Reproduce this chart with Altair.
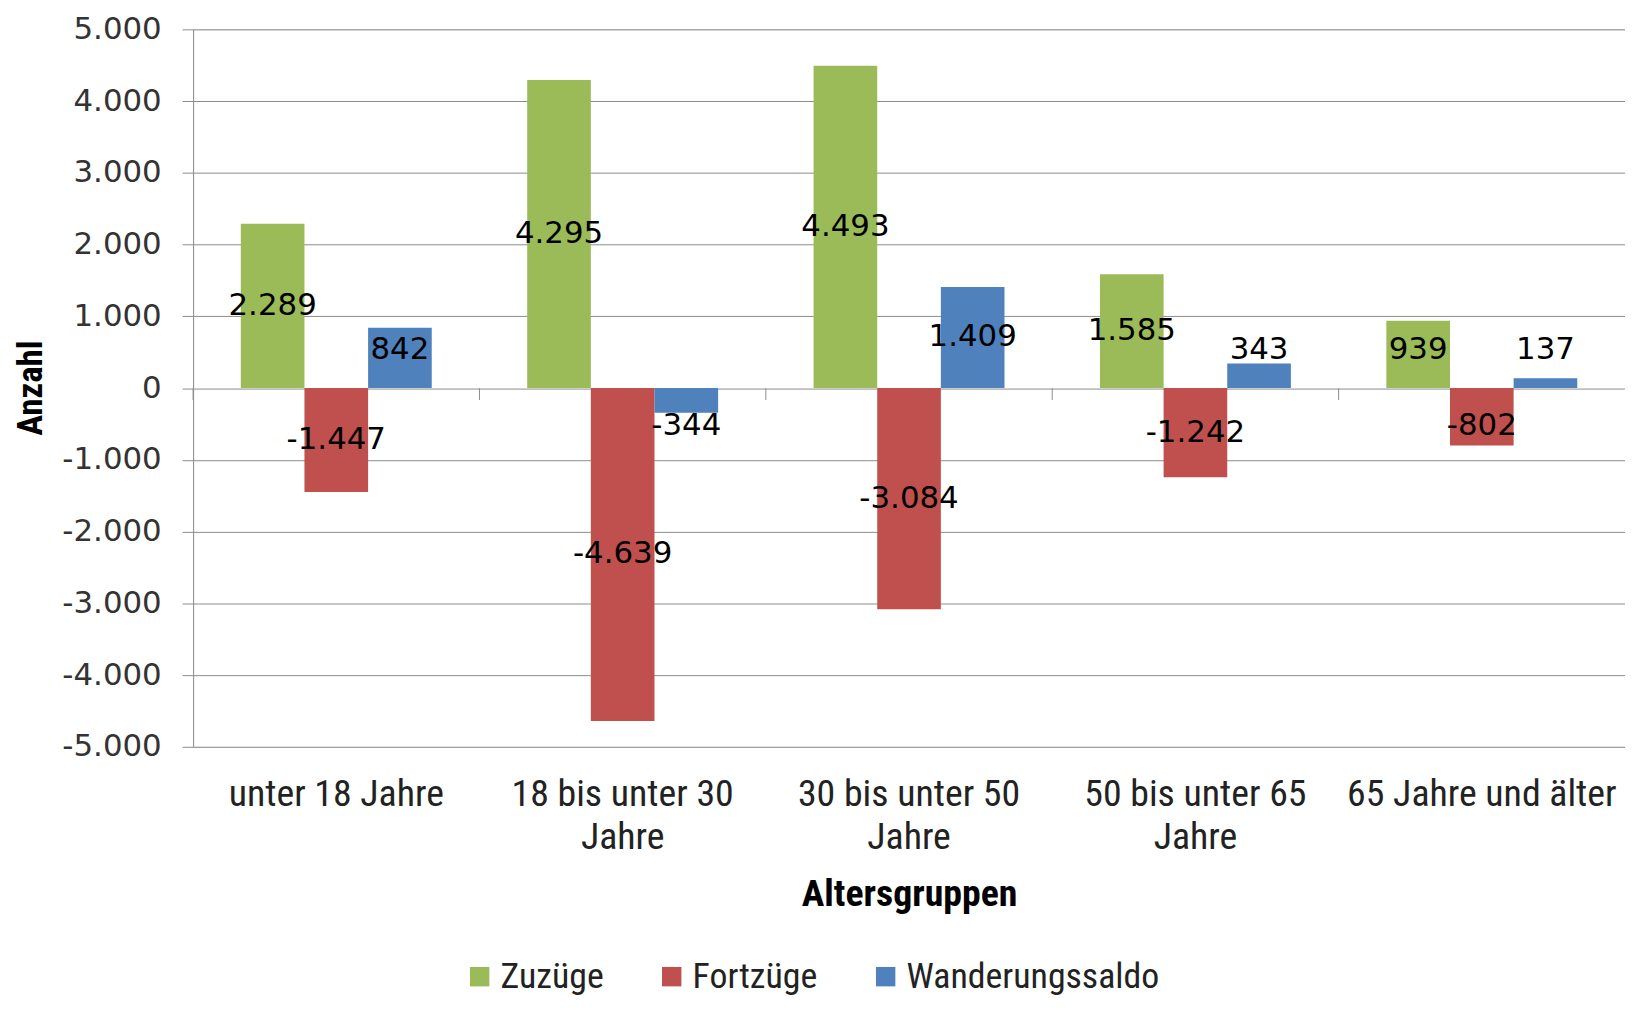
import altair as alt
import pandas as pd

categories = ["unter 18 Jahre", "18 bis unter 30 Jahre", "30 bis unter 50 Jahre",
              "50 bis unter 65 Jahre", "65 Jahre und älter"]
series = ["Zuzüge", "Fortzüge", "Wanderungssaldo"]
zuzuege = [2289, 4295, 4493, 1585, 939]
fortzuege = [-1447, -4639, -3084, -1242, -802]
saldo = [842, -344, 1409, 343, 137]
colors = ["#9BBB59", "#C0504D", "#4F81BD"]
y_ticks = [-5000, -4000, -3000, -2000, -1000, 0, 1000, 2000, 3000, 4000, 5000]

rows = []
for s, vals in zip(series, [zuzuege, fortzuege, saldo]):
    for c, v in zip(categories, vals):
        rows.append({"cat": c, "series": s, "value": v})
df = pd.DataFrame(rows)
ticks_df = pd.DataFrame({"cat": categories})

SANS_N = "Liberation Sans Narrow, Roboto Condensed, Lato, sans-serif"
DEJAVU = "DejaVu Sans"

x_enc = alt.X("cat:N", sort=categories,
              scale=alt.Scale(paddingInner=0, paddingOuter=0),
              axis=alt.Axis(title="Altersgruppen", orient="bottom", domain=False, ticks=False,
                            grid=False, labelAngle=0, labelFont=SANS_N, labelFontSize=38,
                            labelColor="#222222", labelPadding=29, labelLineHeight=43,
                            labelLimit=400,
                            labelExpr="indexof(datum.label, 'bis') >= 0 ? split(replace(datum.label, ' Jahre', '|Jahre'), '|') : datum.label",
                            titleFont=SANS_N, titleFontSize=38, titleFontWeight="bold",
                            titleColor="#000000", titlePadding=19))

y_enc = alt.Y("value:Q",
              scale=alt.Scale(domain=[-5000, 5000], nice=False),
              axis=alt.Axis(values=y_ticks, title="Anzahl", grid=True, gridColor="#8C8C8C",
                            gridWidth=1, domain=True, domainColor="#8C8C8C", domainWidth=1,
                            ticks=True, tickSize=11, tickColor="#8C8C8C", labelPadding=21,
                            labelFont=DEJAVU, labelFontSize=31, labelColor="#333333",
                            labelExpr="(datum.value < 0 ? '-' : '') + replace(format(abs(datum.value), ','), ',', '.')",
                            titleFont=SANS_N, titleFontSize=35, titleFontWeight="bold",
                            titleColor="#000000", titleAngle=270, titleAlign="center",
                            titleBaseline="middle", titleX=-163, titleY=360))

bars = alt.Chart(df).mark_bar().encode(
    x=x_enc,
    xOffset=alt.XOffset("series:N", sort=series,
                        scale=alt.Scale(paddingInner=0, paddingOuter=0.75)),
    y=y_enc,
    color=alt.Color("series:N", sort=series,
                    scale=alt.Scale(domain=series, range=colors),
                    legend=alt.Legend(title=None, orient="none", direction="horizontal",
                                      legendX=270, legendY=934, symbolType="square",
                                      symbolSize=380, symbolStrokeWidth=0, labelFont=SANS_N,
                                      labelFontSize=36, labelColor="#222222", labelOffset=3,
                                      columnPadding=50, labelLimit=400)),
)

labels = alt.Chart(df).transform_calculate(
    ly="datum.value >= 0 ? max(datum.value / 2, 530) : -max(-datum.value / 2, 530)",
    txt="(datum.value < 0 ? '-' : '') + replace(format(abs(datum.value), ','), ',', '.')",
).mark_text(font=DEJAVU, fontSize=31, color="#000000", baseline="middle", align="center").encode(
    x=alt.X("cat:N", sort=categories),
    xOffset=alt.XOffset("series:N", sort=series),
    y=alt.Y("ly:Q"),
    text="txt:N",
)

tick_marks = alt.Chart(ticks_df).mark_rule(color="#8C8C8C", strokeWidth=1, y2Offset=12).encode(
    x=alt.X("cat:N", sort=categories, bandPosition=0),
    y=alt.datum(0),
    y2=alt.datum(0),
)

chart = alt.layer(bars, tick_marks, labels).properties(
    width=1439, height=721,
    autosize=alt.AutoSizeParams(type="none"),
    padding={"left": 186, "top": 19, "right": 0, "bottom": 254},
).configure_view(stroke=None).configure(background="white")

chart.save("out.html", embed_options={"renderer": "svg", "actions": False})
